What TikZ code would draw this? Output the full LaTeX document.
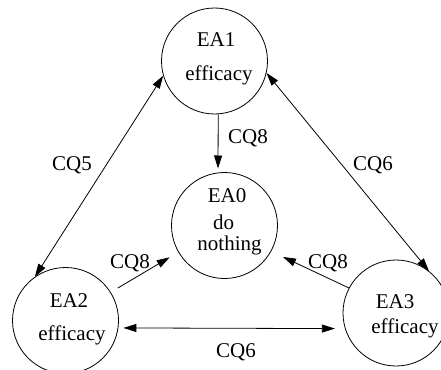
\documentclass[tikz,border=0pt]{standalone}
\usepackage{fontspec}
\setmainfont{Liberation Serif}
\usetikzlibrary{arrows.meta}
\begin{document}
\begin{tikzpicture}[x=1pt,y=-1pt,
  state/.style={circle,draw,line width=0.8pt,minimum size=106pt,inner sep=0pt},
  txt/.style={anchor=base,inner sep=0pt,font=\fontsize{21}{25}\selectfont},
  link/.style={line width=0.8pt,-{Triangle[length=13pt,width=8pt]}},
  dlink/.style={line width=0.8pt,{Triangle[length=13pt,width=8pt]}-{Triangle[length=13pt,width=8pt]}}]
\useasboundingbox (0,0) rectangle (441,369);
\clip (0,0) rectangle (441,369);

% states
\node[state] (ea1) at (214.5,61) {};
\node[state] (ea0) at (224.5,225.5) {};
\node[state] (ea2) at (65.5,320.5) {};
\node[state] (ea3) at (396,313) {};

% state texts
\node[txt] (t1a) at (216,47) {EA1};
\node[txt] (t1b) at (219,80) {efficacy};
\node[txt] (t0a) at (227,202) {EA0};
\node[txt] (t0b) at (223.5,229) {do};
\node[txt] (t0c) at (229.5,250) {nothing};
\node[txt] (t2a) at (69,307) {EA2};
\node[txt] (t2b) at (72,340) {efficacy};
\node[txt] (t3a) at (395,308) {EA3};
\node[txt] (t3b) at (405,333) {efficacy};

% transitions
\draw[dlink] (ea1.196) -- (ea2.125.5);
\draw[dlink] (ea1.347.4) -- (ea3.52);
\draw[link, shorten >=4pt] (ea1.274) -- (ea0.97);
\draw[link, shorten <=8pt, shorten >=10pt] (ea2.32.6) -- (ea0.210);
\draw[link, shorten >=13pt] (ea3.152.5) -- (ea0.331.5);
\draw[dlink, shorten <=5pt, shorten >=10pt] (ea2.-8.7) -- (ea3.197);

% transition labels
\node[txt] (l5) at (72,170) {CQ5};
\node[txt] (l6a) at (373,170) {CQ6};
\node[txt] (l8a) at (248,143) {CQ8};
\node[txt] (l8b) at (130,268) {CQ8};
\node[txt] (l8c) at (328,268) {CQ8};
\node[txt] (l6b) at (236,357) {CQ6};
\end{tikzpicture}
\end{document}
